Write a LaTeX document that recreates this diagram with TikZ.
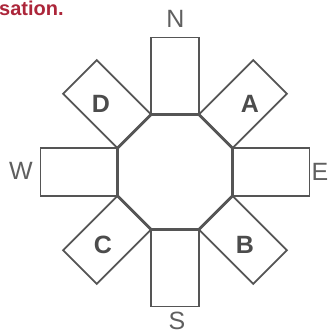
\documentclass[tikz,border=0pt]{standalone}
\usepackage{fontspec}
\setmainfont{Liberation Sans}
\definecolor{ink}{RGB}{85,85,85}
\definecolor{lbl}{RGB}{95,95,95}
\definecolor{redtxt}{RGB}{172,38,58}
\tikzset{
  rectbox/.style={draw=ink, line width=1.8pt, line join=miter},
  octo/.style={draw=ink, line width=2.8pt, line join=round},
  dirlbl/.style={text=lbl, font=\fontsize{25}{25}\selectfont, inner sep=0pt},
  boldlbl/.style={text=ink!90!black, font=\fontsize{25}{25}\selectfont\bfseries, inner sep=0pt}
}
\begin{document}
\begin{tikzpicture}[x=1pt,y=-1pt]
\useasboundingbox (0,0) rectangle (328,335);
% arm rectangles
\foreach \k in {0,...,7}{
  \begin{scope}[shift={(175,172)}, rotate=\k*45]
    \draw[rectbox] (-23.8,-57.5) rectangle (23.8,-134.5);
  \end{scope}
}
% octagon
\draw[octo] (198.8,114.5) -- (232.5,148.2) -- (232.5,195.8) -- (198.8,229.5)
  -- (151.2,229.5) -- (117.5,195.8) -- (117.5,148.2) -- (151.2,114.5) -- cycle;
% labels
\node[dirlbl] (N) at (175.5,19) {N};
\node[dirlbl] (S) at (177,321) {S};
\node[dirlbl] (W) at (21,171) {W};
\node[dirlbl, anchor=west] (E) at (311.5,172) {E};
\node[boldlbl] (A) at (250,104) {A};
\node[boldlbl] (B) at (245,245) {B};
\node[boldlbl] (C) at (103,245) {C};
\node[boldlbl] (D) at (101,104) {D};
\node[anchor=base west, inner sep=0pt, text=redtxt, font=\fontsize{20}{20}\selectfont\bfseries] (red) at (-1,15) {sation.};
\end{tikzpicture}
\end{document}
